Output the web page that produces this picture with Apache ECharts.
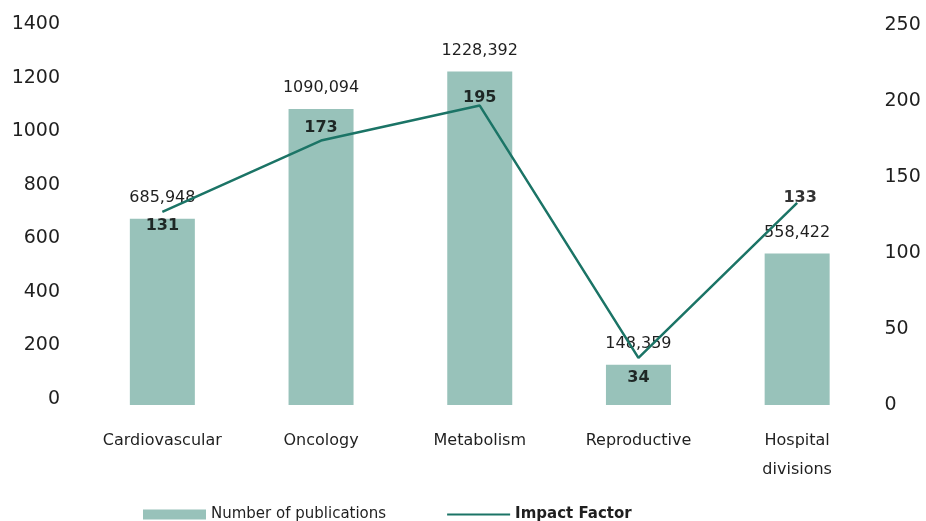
<!DOCTYPE html>
<html>
<head>
<meta charset="utf-8">
<script src="https://cdn.jsdelivr.net/npm/echarts@6/dist/echarts.min.js"></script>
<style>
  html, body { margin: 0; padding: 0; background: #ffffff; }
  #chart { width: 926px; height: 521px; }
</style>
</head>
<body>
<div id="chart"></div>
<script>
// categories and values
var categories = ['Cardiovascular', 'Oncology', 'Metabolism', 'Reproductive', 'Hospital\ndivisions'];
var publications = [685.948, 1090.094, 1228.392, 148.359, 558.422];
// where the line is drawn on the right axis
var impactFactor = [127, 174, 197, 31, 133];
// printed labels of the line points
var impactLabels = ['131', '173', '195', '34', '133'];
var leftTicks = [0, 1400, 200];
var rightTicks = [0, 250, 50];

var fontFamily = '"DejaVu Sans", sans-serif';
var textColor = '#1f1f1f';

// label placement around each line point
var labelOffsets = [[0, 14], [0, -13], [0, -8], [0, 20], [3, -5]];

var labelData = impactFactor.map(function (v, i) {
    return { value: v, label: { offset: labelOffsets[i] } };
});

var hiddenAxis = {
    axisLine: { show: false },
    axisTick: { show: false },
    splitLine: { show: false }
};

var chart = echarts.init(document.getElementById('chart'));
chart.setOption({
    backgroundColor: '#ffffff',
    textStyle: { fontFamily: fontFamily, color: textColor },
    grid: [
        { left: 83, right: 49.5, top: 25, bottom: 116 },
        // the left tick labels sit a bit tighter than the plot in the original
        { left: 83, right: 49.5, top: 24, bottom: 122 }
    ],
    legend: {
        left: 138,
        top: 502,
        itemWidth: 63,
        itemHeight: 10,
        itemGap: 60,
        textStyle: { fontFamily: fontFamily, fontSize: 15, color: textColor },
        data: [
            { name: 'Number of publications', icon: 'rect' },
            { name: 'Impact Factor', textStyle: { fontWeight: 'bold' }, itemStyle: { opacity: 0 } }
        ]
    },
    xAxis: [
        Object.assign({
            type: 'category',
            gridIndex: 0,
            data: categories,
            axisLabel: {
                fontFamily: fontFamily,
                fontSize: 16,
                color: textColor,
                margin: 21,
                lineHeight: 29
            }
        }, hiddenAxis),
        Object.assign({
            type: 'category',
            gridIndex: 1,
            data: categories,
            axisLabel: { show: false }
        }, hiddenAxis)
    ],
    yAxis: [
        Object.assign({
            type: 'value',
            gridIndex: 0,
            min: leftTicks[0],
            max: leftTicks[1],
            interval: leftTicks[2],
            axisLabel: { show: false }
        }, hiddenAxis),
        Object.assign({
            type: 'value',
            gridIndex: 0,
            position: 'right',
            min: rightTicks[0],
            max: rightTicks[1],
            interval: rightTicks[2],
            axisLabel: {
                fontFamily: fontFamily,
                fontSize: 19,
                color: textColor,
                margin: 8,
                formatter: function (v) { return String(v); }
            }
        }, hiddenAxis),
        Object.assign({
            type: 'value',
            gridIndex: 1,
            position: 'left',
            min: leftTicks[0],
            max: leftTicks[1],
            interval: leftTicks[2],
            axisLabel: {
                fontFamily: fontFamily,
                fontSize: 19,
                color: textColor,
                margin: 23,
                formatter: function (v) { return String(v); }
            }
        }, hiddenAxis)
    ],
    series: [
        {
            name: 'Number of publications',
            type: 'bar',
            xAxisIndex: 0,
            yAxisIndex: 0,
            data: publications,
            barWidth: 65,
            itemStyle: { color: '#98c2ba' },
            label: {
                show: true,
                position: 'top',
                distance: 13,
                fontFamily: fontFamily,
                fontSize: 16,
                color: textColor,
                formatter: function (p) {
                    return p.value.toFixed(3).replace('.', ',');
                }
            }
        },
        {
            name: 'Impact Factor',
            type: 'line',
            xAxisIndex: 0,
            yAxisIndex: 1,
            data: impactFactor,
            symbol: 'none',
            lineStyle: { color: '#1b7466', width: 2.5 },
            itemStyle: { color: '#1b7466' },
            z: 3
        },
        {
            // invisible points that only carry the line's value labels
            name: 'Impact Factor labels',
            type: 'scatter',
            xAxisIndex: 0,
            yAxisIndex: 1,
            data: labelData,
            symbolSize: 2,
            itemStyle: { color: 'rgba(0,0,0,0)' },
            silent: true,
            z: 4,
            label: {
                show: true,
                position: 'inside',
                fontFamily: fontFamily,
                fontSize: 16,
                fontWeight: 'bold',
                color: '#000000',
                formatter: function (p) {
                    return impactLabels[p.dataIndex];
                }
            }
        }
    ]
});
</script>
</body>
</html>
